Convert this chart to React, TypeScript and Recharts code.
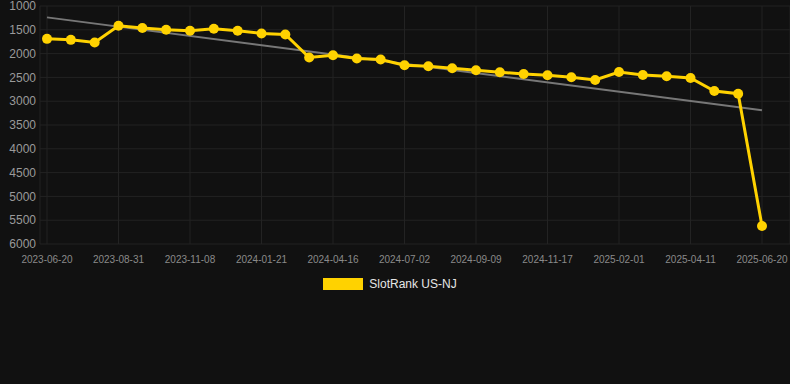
import { LineChart, Line, XAxis, YAxis, CartesianGrid, Legend } from 'recharts'

const dates = [
  '2023-06-20', '2023-07-13', '2023-08-07', '2023-08-31', '2023-09-25', '2023-10-16',
  '2023-11-08', '2023-12-02', '2023-12-27', '2024-01-21', '2024-02-19', '2024-03-18',
  '2024-04-16', '2024-05-11', '2024-06-06', '2024-07-02', '2024-07-25', '2024-08-17',
  '2024-09-09', '2024-10-02', '2024-10-25', '2024-11-17', '2024-12-12', '2025-01-07',
  '2025-02-01', '2025-02-24', '2025-03-19', '2025-04-11', '2025-05-06', '2025-05-28',
  '2025-06-20',
]

const rank = [
  1690, 1711, 1766, 1415, 1464, 1500, 1521, 1479, 1521, 1576, 1597, 2083,
  2034, 2104, 2125, 2245, 2266, 2308, 2350, 2392, 2428, 2456, 2498, 2555,
  2386, 2449, 2477, 2513, 2787, 2842, 5620,
]

// trend line endpoints (first and last date only)
const trendStart = 1239
const trendEnd = 3188

const yTicks = [1000, 1500, 2000, 2500, 3000, 3500, 4000, 4500, 5000, 5500, 6000]

const YELLOW = '#FFD200'
const FONT = '"Liberation Sans", Arial, sans-serif'

const data = dates.map((d, i) => ({
  date: d,
  rank: rank[i],
  trend: i === 0 ? trendStart : i === dates.length - 1 ? trendEnd : null,
}))

function LegendContent() {
  return (
    <div style={{ display: 'flex', justifyContent: 'center', alignItems: 'center', fontFamily: FONT, paddingRight: 10 }}>
      <span style={{ width: 40, height: 12, background: YELLOW, display: 'inline-block', marginRight: 6 }} />
      <span style={{ color: '#e6e6e6', fontSize: 12 }}>SlotRank US-NJ</span>
    </div>
  )
}

export default function App() {
  return (
    <div style={{ position: 'absolute', left: 0, top: 0, width: 790, height: 384, background: '#111111' }}>
      <LineChart
        width={790}
        height={384}
        data={data}
        margin={{ top: 6, right: 0, bottom: 96, left: 0 }}
        style={{ fontFamily: FONT }}
      >
        <CartesianGrid stroke="#232323" strokeWidth={1} />
        <XAxis
          dataKey="date"
          interval={2}
          padding={{ left: 7, right: 28 }}
          tick={{ fontSize: 10, fill: '#8a8a8a' }}
          tickLine={false}
          axisLine={false}
          tickSize={6}
          tickMargin={6}
          height={30}
        />
        <YAxis
          reversed
          domain={[1000, 6000]}
          ticks={yTicks}
          interval={0}
          width={40}
          tick={{ fontSize: 12, fill: '#9a9a9a' }}
          tickLine={false}
          axisLine={false}
          tickSize={2}
          tickMargin={2}
        />
        <Legend verticalAlign="bottom" content={<LegendContent />} wrapperStyle={{ top: 277, height: 14 }} />
        <Line
          dataKey="trend"
          type="linear"
          stroke="#777777"
          strokeWidth={2}
          dot={false}
          activeDot={false}
          connectNulls
          legendType="none"
          isAnimationActive={false}
        />
        <Line
          dataKey="rank"
          name="SlotRank US-NJ"
          type="linear"
          stroke={YELLOW}
          strokeWidth={3}
          dot={{ r: 5, fill: YELLOW, stroke: YELLOW, strokeWidth: 0 }}
          activeDot={false}
          isAnimationActive={false}
        />
      </LineChart>
    </div>
  )
}
